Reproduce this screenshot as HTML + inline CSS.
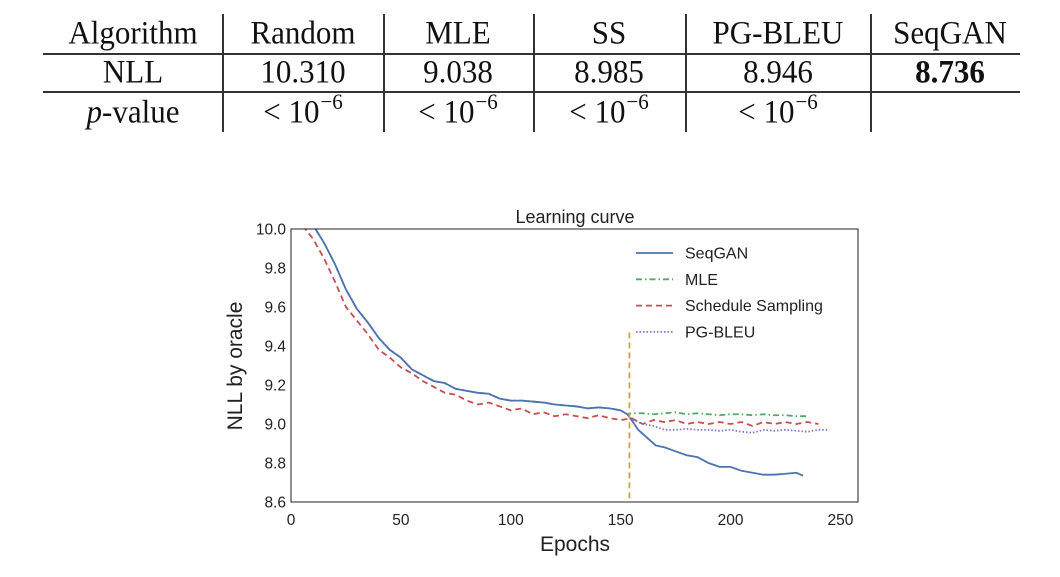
<!DOCTYPE html>
<html><head><meta charset="utf-8"><style>
body{margin:0;width:1060px;height:577px;background:#fff;overflow:hidden;font-family:"Liberation Serif",serif}
.t{position:absolute;font-size:31px;color:#111;transform:translateX(-50%) scaleY(1.05);white-space:nowrap;line-height:36px}
.hl{position:absolute;height:2px;background:#333;left:43px;width:977px}
.vl{position:absolute;width:1.5px;background:#333;top:14px;height:118px}
.sp{font-size:21px;position:relative;top:-13px;margin-left:1px}
</style></head><body>
<div>
<div class="hl" style="top:53px"></div>
<div class="hl" style="top:91px"></div>
<div class="vl" style="left:222px"></div>
<div class="vl" style="left:383px"></div>
<div class="vl" style="left:533px"></div>
<div class="vl" style="left:685px"></div>
<div class="vl" style="left:870px"></div>
<div class="t" style="left:133px;top:15px">Algorithm</div>
<div class="t" style="left:303px;top:15px">Random</div>
<div class="t" style="left:458px;top:15px">MLE</div>
<div class="t" style="left:609px;top:15px">SS</div>
<div class="t" style="left:778px;top:15px">PG-BLEU</div>
<div class="t" style="left:950px;top:15px">SeqGAN</div>
<div class="t" style="left:133px;top:54px">NLL</div>
<div class="t" style="left:303px;top:54px">10.310</div>
<div class="t" style="left:458px;top:54px">9.038</div>
<div class="t" style="left:609px;top:54px">8.985</div>
<div class="t" style="left:778px;top:54px">8.946</div>
<div class="t" style="left:950px;top:54px;font-weight:bold">8.736</div>
<div class="t" style="left:133px;top:94px"><i>p</i>-value</div>
<div class="t" style="left:303px;top:94px">&lt; 10<span class="sp">−6</span></div>
<div class="t" style="left:458px;top:94px">&lt; 10<span class="sp">−6</span></div>
<div class="t" style="left:609px;top:94px">&lt; 10<span class="sp">−6</span></div>
<div class="t" style="left:778px;top:94px">&lt; 10<span class="sp">−6</span></div>
</div>
<svg id="chart" width="1060" height="577" style="position:absolute;left:0;top:0"></svg>
<script>
const seqX=[0,5,10,15,20,25,30,35,40,45,50,55,60,65,70,75,80,85,90,95,100,105,110,115,120,125,130,135,140,145,150,153,155,158,162,166,170,175,180,185,190,195,200,205,210,215,220,225,230,233];
const seqY=[10.15,10.08,10.02,9.93,9.82,9.69,9.59,9.52,9.44,9.38,9.34,9.28,9.25,9.22,9.21,9.18,9.17,9.16,9.155,9.13,9.12,9.12,9.115,9.11,9.1,9.095,9.09,9.08,9.085,9.08,9.07,9.05,9.02,8.97,8.93,8.89,8.88,8.86,8.84,8.83,8.8,8.78,8.78,8.76,8.75,8.74,8.74,8.745,8.75,8.735];
const mleX=[0,5,10,15,20,25,30,35,40,45,50,55,60,65,70,75,80,85,90,95,100,105,110,115,120,125,130,135,140,145,150,153,155,160,165,170,175,180,185,190,195,200,205,210,215,220,225,230,235];
const mleY=[10.15,10.08,10.02,9.93,9.82,9.69,9.59,9.52,9.44,9.38,9.34,9.28,9.25,9.22,9.21,9.18,9.17,9.16,9.155,9.13,9.12,9.12,9.115,9.11,9.1,9.095,9.09,9.08,9.085,9.08,9.07,9.05,9.055,9.055,9.05,9.055,9.06,9.05,9.055,9.05,9.045,9.05,9.05,9.045,9.05,9.045,9.045,9.04,9.04];
const ssX=[0,5,10,15,20,25,30,35,40,45,50,55,60,65,70,75,80,85,90,95,100,105,110,115,120,125,130,135,140,145,150,155,160,165,170,175,180,185,190,195,200,205,210,215,220,225,230,235,240];
const ssY=[10.1,10.02,9.95,9.85,9.73,9.6,9.53,9.46,9.38,9.34,9.29,9.26,9.22,9.19,9.16,9.15,9.12,9.1,9.11,9.09,9.07,9.08,9.05,9.06,9.04,9.05,9.04,9.03,9.045,9.03,9.02,9.03,9,9.02,9.01,9.02,9,9.01,9,9.01,9,9.01,8.99,9.01,9,9.01,9,9.01,9];
const pgX=[154,160,165,170,175,180,185,190,195,200,205,210,215,220,225,230,235,240,245];
const pgY=[9.03,9,8.99,8.97,8.97,8.975,8.97,8.97,8.965,8.97,8.96,8.955,8.97,8.965,8.97,8.965,8.96,8.97,8.97];
const xTicks=[0,50,100,150,200,250];
const yTicks=[8.6,8.8,9.0,9.2,9.4,9.6,9.8,10.0];
const switchEpoch=154;
const X0=291,X1=858,Y0=229,Y1=502,xmax=258,ymin=8.6,ymax=10.0;
const sx=v=>X0+(v/xmax)*(X1-X0);
const sy=v=>Y1-(v-ymin)/(ymax-ymin)*(Y1-Y0);
const svg=document.getElementById('chart');
const NS='http://www.w3.org/2000/svg';
function mk(tag,attrs){const e=document.createElementNS(NS,tag);for(const k in attrs)e.setAttribute(k,attrs[k]);svg.appendChild(e);return e;}
const defs=mk('defs',{});const cp=document.createElementNS(NS,'clipPath');cp.setAttribute('id','c');
const cr=document.createElementNS(NS,'rect');cr.setAttribute('x',X0);cr.setAttribute('y',Y0);cr.setAttribute('width',X1-X0);cr.setAttribute('height',Y1-Y0);cp.appendChild(cr);defs.appendChild(cp);
const F='"Liberation Sans",sans-serif';
function series(xs,ys,color,dash,name,w){
 const p=mk('polyline',{points:xs.map((x,i)=>sx(x)+','+sy(ys[i])).join(' '),fill:'none',stroke:color,'stroke-width':w||1.8,'stroke-dasharray':dash,'clip-path':'url(#c)'});
 
 
}
series(mleX,mleY,'#55a868','6,3,1.5,3','mle-line');
series(ssX,ssY,'#c44e52','6,4','ss-line');
series(pgX,pgY,'#8172d2','1.5,2','pg-bleu-line');
series(seqX,seqY,'#4c72b0','','seqgan-line');
const vl=mk('line',{x1:sx(switchEpoch),x2:sx(switchEpoch),y1:sy(9.47),y2:Y1,stroke:'#c9a54e','stroke-width':1.8,'stroke-dasharray':'6,4'});


const fr=mk('rect',{x:X0,y:Y0,width:X1-X0,height:Y1-Y0,fill:'none',stroke:'#222','stroke-width':1});


xTicks.forEach(t=>{const e=mk('text',{x:sx(t),y:Y1+23,'text-anchor':'middle','font-size':15.5,'font-family':F,fill:'#222'});e.textContent=t;
 
 });
yTicks.forEach(t=>{const e=mk('text',{x:X0-5,y:sy(t)+5.5,'text-anchor':'end','font-size':15.5,'font-family':F,fill:'#222'});e.textContent=t.toFixed(1);
 
 });
let e=mk('text',{x:575,y:223,'text-anchor':'middle','font-size':18,'font-family':F,fill:'#222'});e.textContent='Learning curve';


e=mk('text',{x:575,y:551,'text-anchor':'middle','font-size':21,'font-family':F,fill:'#222'});e.textContent='Epochs';


e=mk('text',{x:0,y:0,'text-anchor':'middle','font-size':21,'font-family':F,fill:'#222',transform:'translate(242,366) rotate(-90)'});e.textContent='NLL by oracle';


const leg=[['SeqGAN','#4c72b0',''],['MLE','#55a868','6,3,1.5,3'],['Schedule Sampling','#c44e52','6,4'],['PG-BLEU','#8172d2','1.5,2']];
leg.forEach((l,i)=>{const y=253+i*26.3;
 const ln=mk('line',{x1:636,x2:673,y1:y,y2:y,stroke:l[1],'stroke-width':1.8,'stroke-dasharray':l[2]});
 
 
 const tx=mk('text',{x:685,y:y+5.5,'font-size':16,'font-family':F,fill:'#222'});tx.textContent=l[0];
 
 
});
</script>
</body></html>
